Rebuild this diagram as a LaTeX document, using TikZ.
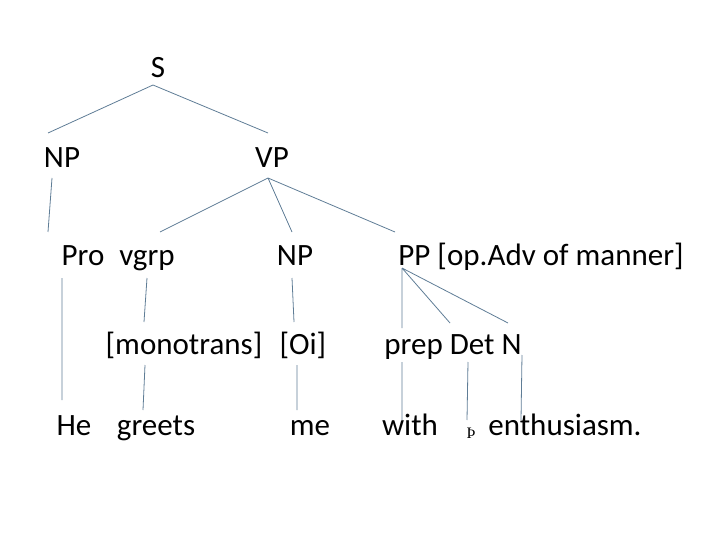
\documentclass[tikz,border=0pt]{standalone}
\usepackage{fontspec}
\setmainfont{Carlito}
\newfontfamily\thornfont{Liberation Serif}
\definecolor{brc}{RGB}{95,125,150}
\begin{document}
\begin{tikzpicture}[x=1pt,y=-1pt,
  lbl/.style={inner sep=0pt,yshift=-8pt,text height=0.62em,text depth=0.2em,font=\fontsize{31}{34}\selectfont},
  br/.style={draw=brc,line width=0.8pt}]
\useasboundingbox (0,0) rectangle (720,540);
\node[lbl] (S) at (158,67) {S};
\node[lbl] (NP1) at (62,157) {NP};
\node[lbl] (VP) at (272,157) {VP};
\node[lbl] (Pro) at (83,255) {Pro};
\node[lbl] (vgrp) at (147,255) {vgrp};
\node[lbl] (NP2) at (295,255) {NP};
\node[lbl] (PP) at (541,255) {PP [op.Adv of manner]};
\node[lbl] (mono) at (216,344) {[monotrans]\,\, [Oi]};
\node[lbl] (pdn) at (453,344) {prep Det N};
\node[lbl] (He) at (74,425) {He};
\node[lbl] (greets) at (156,425) {greets};
\node[lbl] (me) at (310,425) {me};
\node[lbl] (with) at (410,425) {with};
\node[inner sep=0pt,yshift=-2pt,font=\thornfont\fontsize{16}{18}\selectfont] (thorn) at (471,431) {Þ};
\node[lbl] (enth) at (565,425) {enthusiasm.};
\foreach \n/\x/\y in {s1/153/85, np1t/48/133, vp1t/268/133, np1b/52/178, prot/48/232,
  vpb/268/178, vgt/160/232, np2t/292/232, ppt/395/232,
  prob/62/278, heT/62/400, vgb/147/278, mot/144/322, np2b/292/278, oit/294/322,
  ppb/402/268, prept/402/328, dett/450/323, nt/508/323,
  moB/145/365, grT/143/410, oiB/297/365, meT/297/410,
  prB/402/362, wiT/402/420, deB/468/362, thT/467/420, nB/522/355, enT/521/420}
  \coordinate (\n) at (\x,\y);
\draw[br] (s1)--(np1t) (s1)--(vp1t) (np1b)--(prot)
  (vpb)--(vgt) (vpb)--(np2t) (vpb)--(ppt)
  (prob)--(heT) (vgb)--(mot) (np2b)--(oit)
  (ppb)--(prept) (ppb)--(dett) (ppb)--(nt)
  (moB)--(grT) (oiB)--(meT) (prB)--(wiT) (deB)--(thT) (nB)--(enT);
\end{tikzpicture}
\end{document}
